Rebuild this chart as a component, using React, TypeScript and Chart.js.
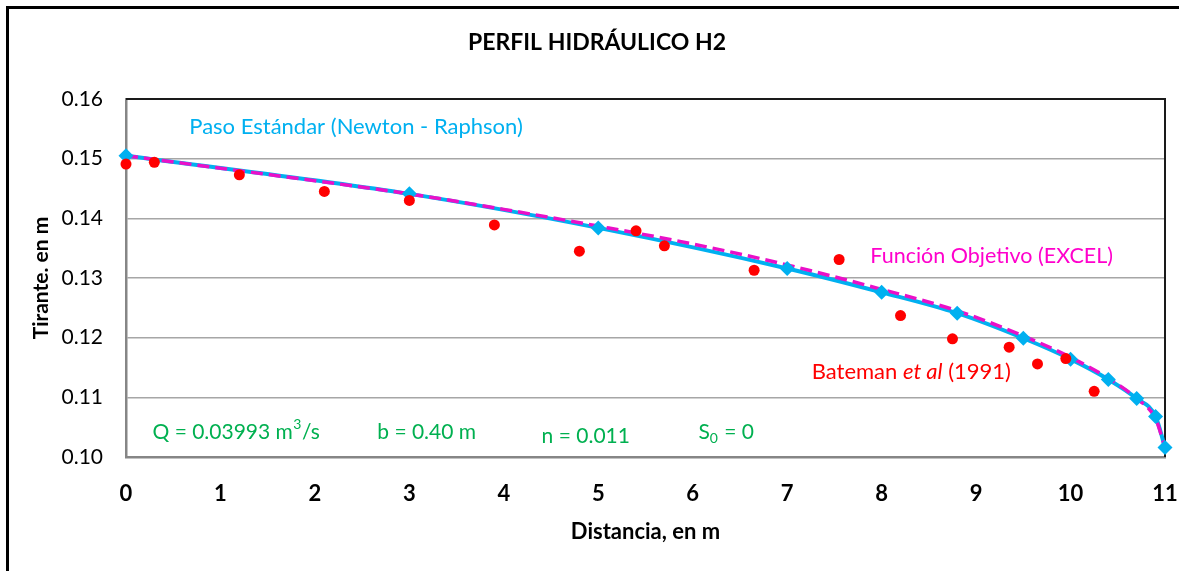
import { useEffect, useRef } from "react";
import { Chart, registerables } from "chart.js";
Chart.register(...registerables);

// Paso Estándar (Newton - Raphson)
const pasoX = [0, 3, 5, 7, 8, 8.8, 9.5, 10, 10.4, 10.7, 10.9, 11];
const pasoY = [0.1505, 0.1441, 0.1384, 0.1316, 0.1276, 0.1241, 0.1199, 0.1164, 0.113, 0.1098, 0.1068, 0.1016];

// Función Objetivo (EXCEL)
const funcX = [0, 1, 2, 3, 4, 5, 6, 7, 8, 8.8, 9.5, 10, 10.4, 10.7, 10.9, 11];
const funcY = [0.1505, 0.1484, 0.1463, 0.1441, 0.1415, 0.1387, 0.1357, 0.1322, 0.1281, 0.1245, 0.1203, 0.1167, 0.1132, 0.1098, 0.1064, 0.1016];

// Bateman et al (1991)
const batemanX = [0, 0.3, 1.2, 2.1, 3.0, 3.9, 4.8, 5.4, 5.7, 6.65, 7.55, 8.2, 8.75, 9.35, 9.65, 9.95, 10.25];
const batemanY = [0.1491, 0.1494, 0.1473, 0.1445, 0.143, 0.1389, 0.1345, 0.1379, 0.1354, 0.1313, 0.1331, 0.1237, 0.1198, 0.1184, 0.1156, 0.1165, 0.111];

const xTickLabels = ["0", "1", "2", "3", "4", "5", "6", "7", "8", "9", "10", "11"];
const yTickLabels = ["0.10", "0.11", "0.12", "0.13", "0.14", "0.15", "0.16"];

const FONT = "Lato";
const CYAN = "#00B0F0";
const MAGENTA = "#EA10C8";
const RED = "#FF0000";
const GREEN = "#00B050";

const pts = (xs: number[], ys: number[]) => xs.map((x, i) => ({ x, y: ys[i] }));

const decor = {
  id: "decor",
  beforeDraw(chart: any) {
    const { ctx, width, height } = chart;
    ctx.save();
    ctx.fillStyle = "#fff";
    ctx.fillRect(0, 0, width, height);
    ctx.restore();
  },
  beforeDatasetsDraw(chart: any) {
    const { ctx, chartArea: a } = chart;
    ctx.save();
    ctx.strokeStyle = "#1a1a1a";
    ctx.lineWidth = 2;
    ctx.beginPath();
    ctx.moveTo(a.left, a.top);
    ctx.lineTo(a.right, a.top);
    ctx.lineTo(a.right, a.bottom);
    ctx.stroke();
    ctx.restore();
  },
  afterDraw(chart: any) {
    const { ctx, width, height } = chart;
    const xs = chart.scales.x;
    const ys = chart.scales.y;
    const px = (v: number) => xs.getPixelForValue(v);
    const py = (v: number) => ys.getPixelForValue(v);
    ctx.save();
    // outer frame
    ctx.strokeStyle = "#000";
    ctx.lineWidth = 3;
    ctx.beginPath();
    ctx.moveTo(7.5, height + 5);
    ctx.lineTo(7.5, 7.5);
    ctx.lineTo(width + 5, 7.5);
    ctx.stroke();

    // title
    ctx.fillStyle = "#000";
    ctx.font = `bold 23px ${FONT}`;
    ctx.textAlign = "center";
    ctx.textBaseline = "middle";
    ctx.fillText("PERFIL HIDRÁULICO H2", 597, 43);

    ctx.textAlign = "left";
    // series labels
    ctx.font = `22px ${FONT}`;
    ctx.fillStyle = CYAN;
    ctx.fillText("Paso Estándar (Newton - Raphson)", px(0.67), py(0.1554));
    ctx.font = `21.5px ${FONT}`;
    ctx.fillStyle = "#FF00CC";
    ctx.fillText("Función Objetivo (EXCEL)", px(7.88), py(0.1337));

    ctx.fillStyle = RED;
    let x = px(7.26);
    const yb = py(0.1143);
    ctx.font = `22px ${FONT}`;
    ctx.fillText("Bateman ", x, yb);
    x += ctx.measureText("Bateman ").width;
    ctx.font = `italic 22px ${FONT}`;
    ctx.fillText("et al", x, yb);
    x += ctx.measureText("et al").width;
    ctx.font = `22px ${FONT}`;
    ctx.fillText(" (1991)", x, yb);

    // parameters
    ctx.fillStyle = GREEN;
    const yg = py(0.1041);
    x = px(0.28);
    ctx.font = `21px ${FONT}`;
    ctx.fillText("Q = 0.03993 m", x, yg);
    x += ctx.measureText("Q = 0.03993 m").width;
    ctx.font = `14px ${FONT}`;
    ctx.fillText("3", x + 0.5, yg - 8);
    x += ctx.measureText("3").width + 1;
    ctx.font = `21px ${FONT}`;
    ctx.fillText("/s", x, yg);

    ctx.fillText("b = 0.40 m", px(2.66), yg);
    ctx.fillText("n = 0.011", px(4.4), py(0.10345));

    x = px(6.06);
    ctx.fillText("S", x, yg);
    x += ctx.measureText("S").width;
    ctx.font = `14px ${FONT}`;
    ctx.fillText("0", x, yg + 6);
    x += ctx.measureText("0").width + 1;
    ctx.font = `21px ${FONT}`;
    ctx.fillText(" = 0", x, yg);
    ctx.restore();
  },
};

export default function App() {
  const ref = useRef<HTMLCanvasElement | null>(null);
  useEffect(() => {
    document.body.style.margin = "0";
    const canvas = ref.current!;
    const chart = new Chart(canvas, {
      type: "scatter",
      data: {
        datasets: [
          {
            label: "Bateman et al (1991)",
            data: pts(batemanX, batemanY),
            showLine: false,
            pointStyle: "circle",
            pointRadius: 5.5,
            pointBackgroundColor: RED,
            pointBorderColor: RED,
            pointBorderWidth: 0,
            order: 0,
            clip: false,
          },
          {
            label: "Paso Estándar markers",
            data: pts(pasoX, pasoY),
            showLine: false,
            pointStyle: "rectRot",
            pointRadius: 7.5,
            pointBackgroundColor: CYAN,
            pointBorderColor: CYAN,
            pointBorderWidth: 0,
            order: 1,
            clip: false,
          },
          {
            label: "Función Objetivo (EXCEL)",
            data: pts(funcX, funcY),
            showLine: true,
            borderColor: MAGENTA,
            borderWidth: 3.5,
            borderDash: [12, 6],
            pointRadius: 0,
            cubicInterpolationMode: "monotone",
            order: 2,
            clip: false,
          },
          {
            label: "Paso Estándar (Newton - Raphson)",
            data: pts(pasoX, pasoY),
            showLine: true,
            borderColor: CYAN,
            borderWidth: 4,
            pointRadius: 0,
            cubicInterpolationMode: "monotone",
            order: 3,
            clip: false,
          },
        ],
      },
      options: {
        responsive: false,
        animation: false,
        devicePixelRatio: 1,
        layout: { padding: { top: 99, right: 14, bottom: 0, left: 0 } },
        plugins: {
          legend: { display: false },
          title: { display: false },
          tooltip: { enabled: false },
        },
        scales: {
          x: {
            type: "linear",
            min: 0,
            max: 11,
            afterFit: (s: any) => {
              s.height = 114;
              s.paddingLeft = 0;
              s.paddingRight = 0;
            },
            afterBuildTicks: (s: any) => {
              s.ticks = xTickLabels.map((t) => ({ value: Number(t) }));
            },
            ticks: {
              callback: (v: any) => xTickLabels[Number(v)] ?? "",
              font: { family: FONT, size: 22, weight: "bold" },
              color: "#000",
              padding: 24,
              maxRotation: 0,
              autoSkip: false,
            },
            grid: { display: false, drawTicks: false },
            border: { display: true, color: "#868686", width: 2.5 },
            title: {
              display: true,
              text: "Distancia, en m",
              font: { family: FONT, size: 22, weight: "bold" },
              color: "#000",
              padding: { top: 0, bottom: 26 },
            },
          },
          y: {
            type: "linear",
            min: 0.1,
            max: 0.16,
            afterFit: (s: any) => {
              s.width = 126;
              s.paddingTop = 0;
              s.paddingBottom = 0;
            },
            afterBuildTicks: (s: any) => {
              s.ticks = yTickLabels.map((t) => ({ value: Number(t) }));
            },
            ticks: {
              callback: (v: any) => {
                const i = yTickLabels.findIndex((t) => Math.abs(Number(t) - Number(v)) < 1e-9);
                return i >= 0 ? yTickLabels[i] : "";
              },
              font: { family: FONT, size: 21 },
              color: "#000",
              padding: 23,
              autoSkip: false,
            },
            grid: { color: "#A6A6A6", lineWidth: 1.5, drawTicks: false },
            border: { display: true, color: "#868686", width: 2.5 },
            title: {
              display: true,
              text: "Tirante. en m",
              font: { family: FONT, size: 21, weight: "bold" },
              color: "#000",
              padding: { top: 29, bottom: 0 },
            },
          },
        },
      },
      plugins: [decor],
    } as any);
    return () => chart.destroy();
  }, []);
  return <canvas ref={ref} width={1179} height={571} style={{ display: "block" }} />;
}
